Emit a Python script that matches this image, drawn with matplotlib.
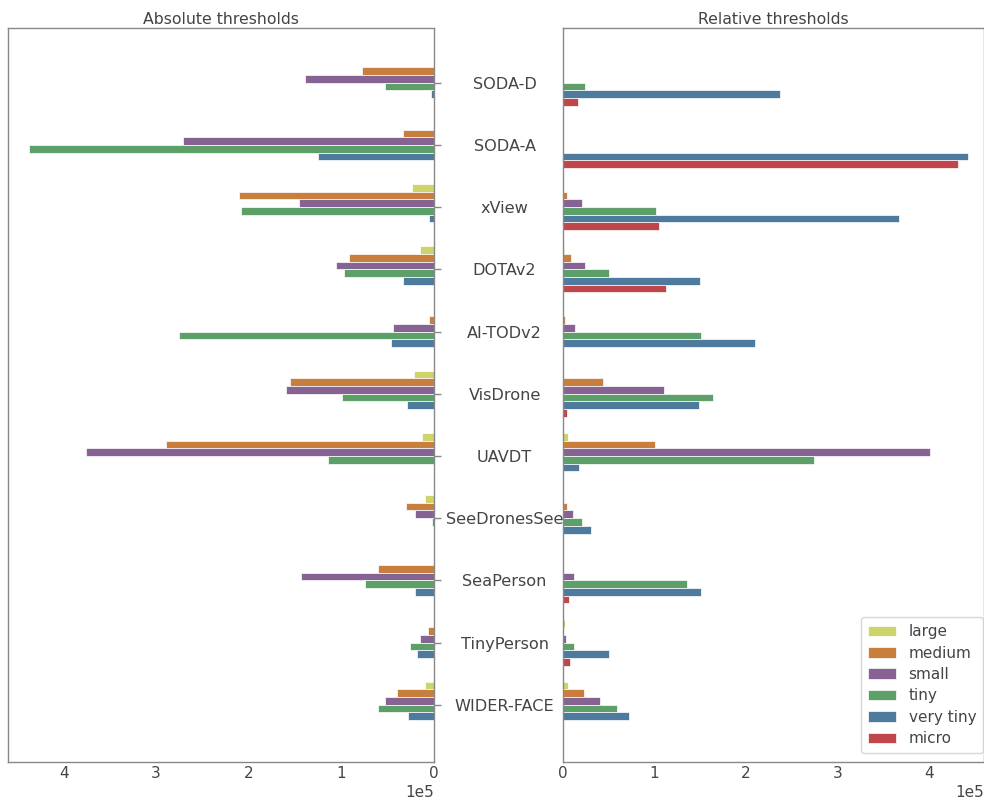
import numpy as np
import matplotlib
matplotlib.use("Agg")
import matplotlib.pyplot as plt

datasets = ["SODA-D", "SODA-A", "xView", "DOTAv2", "AI-TODv2", "VisDrone",
            "UAVDT", "SeeDronesSee", "SeaPerson", "TinyPerson", "WIDER-FACE"]
sizes = ["large", "medium", "small", "tiny", "very tiny", "micro"]
colors = ["#cdd46a", "#c87f3e", "#876394", "#5c9f69", "#4e7a9e", "#bf474c"]

# absolute thresholds (x 1e5)
abs_large     = [0.00, 0.00, 0.24, 0.15, 0.00, 0.22, 0.13, 0.10, 0.00, 0.00, 0.10]
abs_medium    = [0.78, 0.34, 2.11, 0.92, 0.05, 1.55, 2.89, 0.30, 0.60, 0.07, 0.40]
abs_small     = [1.39, 2.71, 1.46, 1.06, 0.44, 1.60, 3.76, 0.20, 1.44, 0.15, 0.53]
abs_tiny      = [0.53, 4.37, 2.08, 0.97, 2.75, 0.99, 1.14, 0.02, 0.74, 0.26, 0.61]
abs_very_tiny = [0.03, 1.25, 0.05, 0.33, 0.46, 0.29, 0.00, 0.00, 0.21, 0.18, 0.28]
abs_micro     = [0.00, 0.00, 0.00, 0.00, 0.00, 0.00, 0.00, 0.00, 0.00, 0.00, 0.00]

# relative thresholds (x 1e5)
rel_large     = [0.00, 0.00, 0.00, 0.01, 0.00, 0.00, 0.05, 0.00, 0.00, 0.02, 0.05]
rel_medium    = [0.00, 0.00, 0.04, 0.09, 0.02, 0.44, 1.01, 0.04, 0.00, 0.00, 0.23]
rel_small     = [0.00, 0.00, 0.21, 0.24, 0.13, 1.10, 4.01, 0.11, 0.12, 0.03, 0.40]
rel_tiny      = [0.24, 0.00, 1.02, 0.50, 1.51, 1.64, 2.74, 0.21, 1.36, 0.12, 0.59]
rel_very_tiny = [2.37, 4.42, 3.67, 1.50, 2.10, 1.49, 0.17, 0.31, 1.51, 0.50, 0.72]
rel_micro     = [0.16, 4.32, 1.05, 1.13, 0.00, 0.04, 0.00, 0.00, 0.07, 0.08, 0.00]

abs_vals = [abs_large, abs_medium, abs_small, abs_tiny, abs_very_tiny, abs_micro]
rel_vals = [rel_large, rel_medium, rel_small, rel_tiny, rel_very_tiny, rel_micro]

text_c = "#444444"
spine_c = "#888888"
plt.rcParams["font.family"] = "DejaVu Sans"
plt.rcParams["text.color"] = text_c
plt.rcParams["xtick.color"] = spine_c
plt.rcParams["xtick.labelcolor"] = text_c
plt.rcParams["ytick.color"] = spine_c
plt.rcParams["ytick.labelcolor"] = text_c

fig = plt.figure(figsize=(9.84, 7.99), dpi=100)
ax1 = fig.add_axes([8 / 984, 37 / 799, 426 / 984, 734 / 799])
ax2 = fig.add_axes([563 / 984, 37 / 799, 421 / 984, 734 / 799])

y = np.arange(len(datasets))
group_w = 0.74
bw = group_w / len(sizes)

for ax, vals in [(ax1, abs_vals), (ax2, rel_vals)]:
    for i, (name, col) in enumerate(zip(sizes, colors)):
        off = -group_w / 2 + bw * (i + 0.5)
        ax.barh(y + off, np.array(vals[i]) * 1e5, height=bw, color=col,
                edgecolor="white", linewidth=0.5, label=name)
    ax.set_ylim(10.92, -0.88)
    ax.set_xlim(0, 4.6e5)
    ax.ticklabel_format(style="sci", axis="x", scilimits=(0, 0))
    ax.xaxis.get_offset_text().set_fontsize(11)
    ax.xaxis.get_offset_text().set_color(text_c)
    ax.tick_params(axis="x", labelsize=11, length=0, pad=3)
    for s in ax.spines.values():
        s.set_color(spine_c)
        s.set_linewidth(1.0)

ax1.invert_xaxis()
ax1.set_yticks(y)
ax1.yaxis.tick_right()
ax1.tick_params(axis="y", labelright=False, length=5, width=1)
ax1.set_title("Absolute thresholds", fontsize=11.3, color=text_c, pad=3)

ax2.set_yticks(y)
ax2.set_yticklabels(datasets, fontsize=11.6, ha="center")
ax2.tick_params(axis="y", length=0, pad=42)
ax2.set_title("Relative thresholds", fontsize=11.3, color=text_c, pad=3)

leg = ax2.legend(loc="lower right", fontsize=11, frameon=True,
                 bbox_to_anchor=(0.998, 0.012), borderaxespad=0,
                 borderpad=0.45, labelspacing=0.42, handlelength=1.85,
                 handletextpad=0.8)
leg.get_frame().set_edgecolor("#cccccc")

fig.savefig("out.png", dpi=100)
